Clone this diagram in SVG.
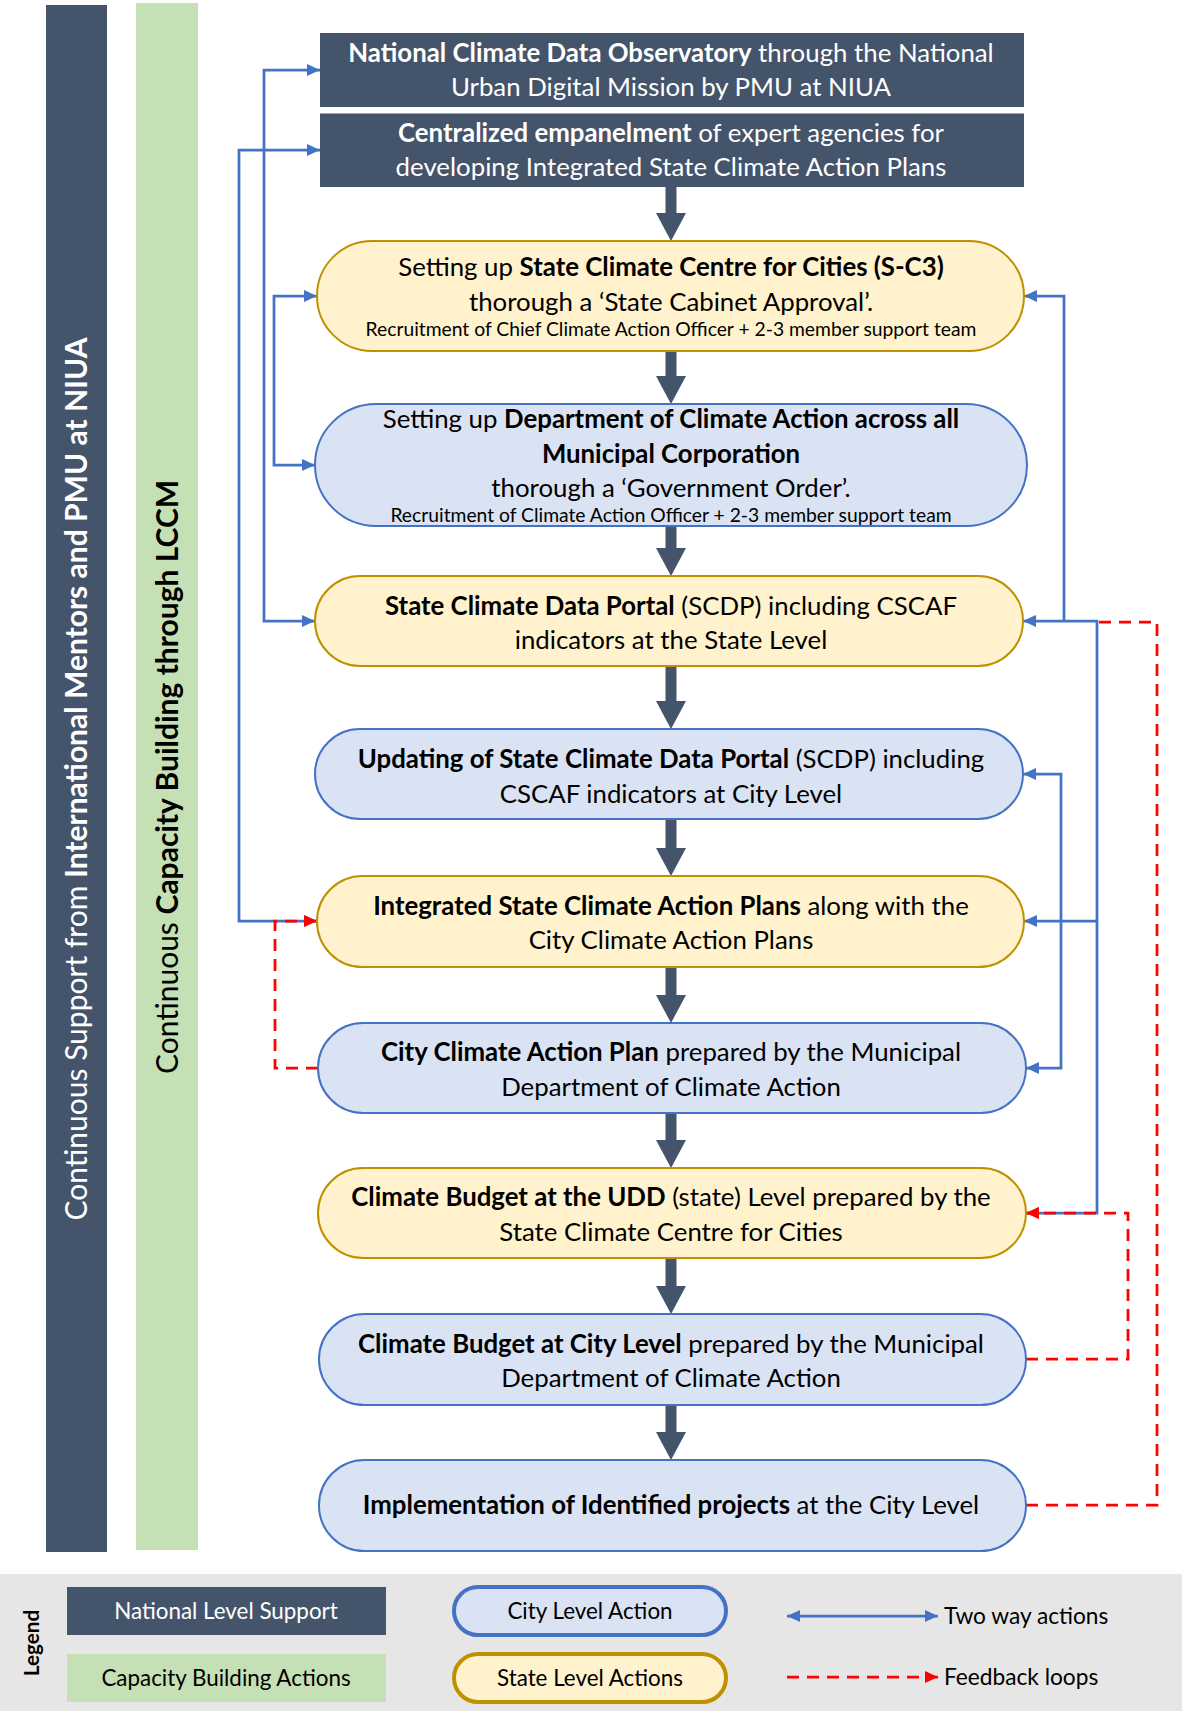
<svg xmlns="http://www.w3.org/2000/svg" width="1182" height="1711" viewBox="0 0 1182 1711">
<style>
text{font-family:Lato,"Liberation Sans",sans-serif;fill:#000;}
.t{font-size:25.8px;text-anchor:middle;}
.s{font-size:19.3px;text-anchor:middle;}
.w{fill:#fff;}
.b{font-weight:700;}
.dark{fill:#44546A;}
.green{fill:#C5E0B4;}
.yel{fill:#FFF2CC;stroke:#BF9000;stroke-width:2;}
.blu{fill:#DAE3F3;stroke:#4472C4;stroke-width:2;}
.big{stroke:#44546A;stroke-width:11;fill:none;}
.two{stroke:#4472C4;stroke-width:2.75;fill:none;}
.fb{stroke:#FF0000;stroke-width:2.75;fill:none;stroke-dasharray:12 8;}
.vt{font-size:30px;text-anchor:middle;}
.lg{font-size:22.4px;text-anchor:middle;}
.lt{font-size:22.7px;}
</style>
<defs>
<marker id="bigHead" markerUnits="userSpaceOnUse" markerWidth="30" markerHeight="30" refX="0" refY="15" orient="auto">
<path d="M0,0 L28,15 L0,30 Z" fill="#44546A"/>
</marker>
<marker id="ba" markerUnits="userSpaceOnUse" markerWidth="14" markerHeight="12" refX="13" refY="6" orient="auto-start-reverse">
<path d="M0,0 L13,6 L0,12 Z" fill="#4472C4"/>
</marker>
<marker id="ra" markerUnits="userSpaceOnUse" markerWidth="14" markerHeight="12" refX="13" refY="6" orient="auto-start-reverse">
<path d="M0,0 L13,6 L0,12 Z" fill="#FF0000"/>
</marker>
</defs>
<rect width="1182" height="1711" fill="#fff"/>

<g id="bar-support">
<rect class="dark" x="46" y="5" width="61" height="1547"/>
<text class="vt w" transform="translate(76,779) rotate(-90)" y="11">Continuous Support from <tspan class="b">International Mentors and PMU at NIUA</tspan></text>
</g>
<g id="bar-capacity">
<rect class="green" x="136" y="3" width="62" height="1547"/>
<text class="vt" transform="translate(167,777) rotate(-90)" y="11">Continuous <tspan class="b">Capacity Building through LCCM</tspan></text>
</g>

<g id="connectors">
<line class="big" x1="671" y1="187" x2="671" y2="213" marker-end="url(#bigHead)"/>
<line class="big" x1="671" y1="351" x2="671" y2="376" marker-end="url(#bigHead)"/>
<line class="big" x1="671" y1="526" x2="671" y2="548" marker-end="url(#bigHead)"/>
<line class="big" x1="671" y1="666" x2="671" y2="701" marker-end="url(#bigHead)"/>
<line class="big" x1="671" y1="819" x2="671" y2="848" marker-end="url(#bigHead)"/>
<line class="big" x1="671" y1="967" x2="671" y2="995" marker-end="url(#bigHead)"/>
<line class="big" x1="671" y1="1113" x2="671" y2="1140" marker-end="url(#bigHead)"/>
<line class="big" x1="671" y1="1258" x2="671" y2="1286" marker-end="url(#bigHead)"/>
<line class="big" x1="671" y1="1405" x2="671" y2="1432" marker-end="url(#bigHead)"/>

<path class="two" d="M320,70 H264 V621 H315" marker-start="url(#ba)" marker-end="url(#ba)"/>
<path class="two" d="M320,150 H239 V921 H317" marker-start="url(#ba)" marker-end="url(#ba)"/>
<path class="two" d="M317,296 H274 V465 H315" marker-start="url(#ba)" marker-end="url(#ba)"/>
<path class="two" d="M1024,296 H1064 V622" marker-start="url(#ba)"/>
<path class="two" d="M1023,621 H1097 V1213 H1026" marker-start="url(#ba)" marker-end="url(#ba)"/>
<path class="two" d="M1097,921 H1024" marker-end="url(#ba)"/>
<path class="two" d="M1023,774 H1061 V1068 H1026" marker-start="url(#ba)" marker-end="url(#ba)"/>

<path class="fb" d="M1026,1505 H1157 V622 H1099"/>
<path class="fb" d="M1026,1359 H1128 V1213 H1026" marker-end="url(#ra)"/>
<path class="fb" d="M318,1068 H275 V921 H317" marker-end="url(#ra)"/>
</g>

<g id="n1">
<rect class="dark" x="320" y="33" width="704" height="74"/>
<text class="t w" x="671" y="62"><tspan class="b">National Climate Data Observatory</tspan> through the National</text>
<text class="t w" x="671" y="96">Urban Digital Mission by PMU at NIUA</text>
</g>
<g id="n2">
<rect class="dark" x="320" y="113.5" width="704" height="73.5"/>
<text class="t w" x="671" y="142"><tspan class="b">Centralized empanelment</tspan> of expert agencies for</text>
<text class="t w" x="671" y="176">developing Integrated State Climate Action Plans</text>
</g>
<g id="n3">
<rect class="yel" x="317" y="241" width="707" height="110" rx="55"/>
<text class="t" x="671" y="276">Setting up <tspan class="b">State Climate Centre for Cities (S-C3)</tspan></text>
<text class="t" x="671" y="311">thorough a ‘State Cabinet Approval’.</text>
<text class="s" x="671" y="336">Recruitment of Chief Climate Action Officer + 2-3 member support team</text>
</g>
<g id="n4">
<rect class="blu" x="315" y="404" width="712" height="122" rx="61"/>
<text class="t" x="671" y="428">Setting up <tspan class="b">Department of Climate Action across all</tspan></text>
<text class="t b" x="671" y="463">Municipal Corporation</text>
<text class="t" x="671" y="497">thorough a ‘Government Order’.</text>
<text class="s" x="671" y="522">Recruitment of Climate Action Officer + 2-3 member support team</text>
</g>
<g id="n5">
<rect class="yel" x="315" y="576" width="708" height="90" rx="45"/>
<text class="t" x="671" y="615"><tspan class="b">State Climate Data Portal</tspan> (SCDP) including CSCAF</text>
<text class="t" x="671" y="649">indicators at the State Level</text>
</g>
<g id="n6">
<rect class="blu" x="315" y="729" width="708" height="90" rx="45"/>
<text class="t" x="671" y="768"><tspan class="b">Updating of State Climate Data Portal</tspan> (SCDP) including</text>
<text class="t" x="671" y="803">CSCAF indicators at City Level</text>
</g>
<g id="n7">
<rect class="yel" x="317" y="876" width="707" height="91" rx="45.5"/>
<text class="t" x="671" y="915"><tspan class="b">Integrated State Climate Action Plans</tspan> along with the</text>
<text class="t" x="671" y="949">City Climate Action Plans</text>
</g>
<g id="n8">
<rect class="blu" x="318" y="1023" width="708" height="90" rx="45"/>
<text class="t" x="671" y="1061"><tspan class="b">City Climate Action Plan</tspan> prepared by the Municipal</text>
<text class="t" x="671" y="1096">Department of Climate Action</text>
</g>
<g id="n9">
<rect class="yel" x="318" y="1168" width="708" height="90" rx="45"/>
<text class="t" x="671" y="1206"><tspan class="b">Climate Budget at the UDD</tspan> (state) Level prepared by the</text>
<text class="t" x="671" y="1241">State Climate Centre for Cities</text>
</g>
<g id="n10">
<rect class="blu" x="319" y="1314" width="707" height="91" rx="45.5"/>
<text class="t" x="671" y="1353"><tspan class="b">Climate Budget at City Level</tspan> prepared by the Municipal</text>
<text class="t" x="671" y="1387">Department of Climate Action</text>
</g>
<g id="n11">
<rect class="blu" x="319" y="1460" width="707" height="91" rx="45.5"/>
<text class="t" x="671" y="1514"><tspan class="b">Implementation of Identified projects</tspan> at the City Level</text>
</g>

<g id="legend">
<rect x="0" y="1574" width="1182" height="137" fill="#E7E6E6"/>
<text class="b" font-size="20.7" text-anchor="middle" transform="translate(32,1643) rotate(-90)" y="7">Legend</text>
<rect class="dark" x="67" y="1587" width="319" height="48"/>
<text class="lg w" x="226" y="1619">National Level Support</text>
<rect class="green" x="67" y="1654" width="319" height="48"/>
<text class="lg" x="226" y="1686">Capacity Building Actions</text>
<rect x="454" y="1587" width="272" height="48" rx="24" fill="#DAE3F3" stroke="#4472C4" stroke-width="4"/>
<text class="lg" x="590" y="1619">City Level Action</text>
<rect x="454" y="1654" width="272" height="48" rx="24" fill="#FFF2CC" stroke="#BF9000" stroke-width="4"/>
<text class="lg" x="590" y="1686">State Level Actions</text>
<line class="two" x1="787" y1="1616" x2="938" y2="1616" marker-start="url(#ba)" marker-end="url(#ba)"/>
<text class="lt" x="944" y="1624">Two way actions</text>
<line class="fb" x1="787" y1="1677" x2="938" y2="1677" marker-end="url(#ra)"/>
<text class="lt" x="944" y="1685">Feedback loops</text>
</g>
</svg>
